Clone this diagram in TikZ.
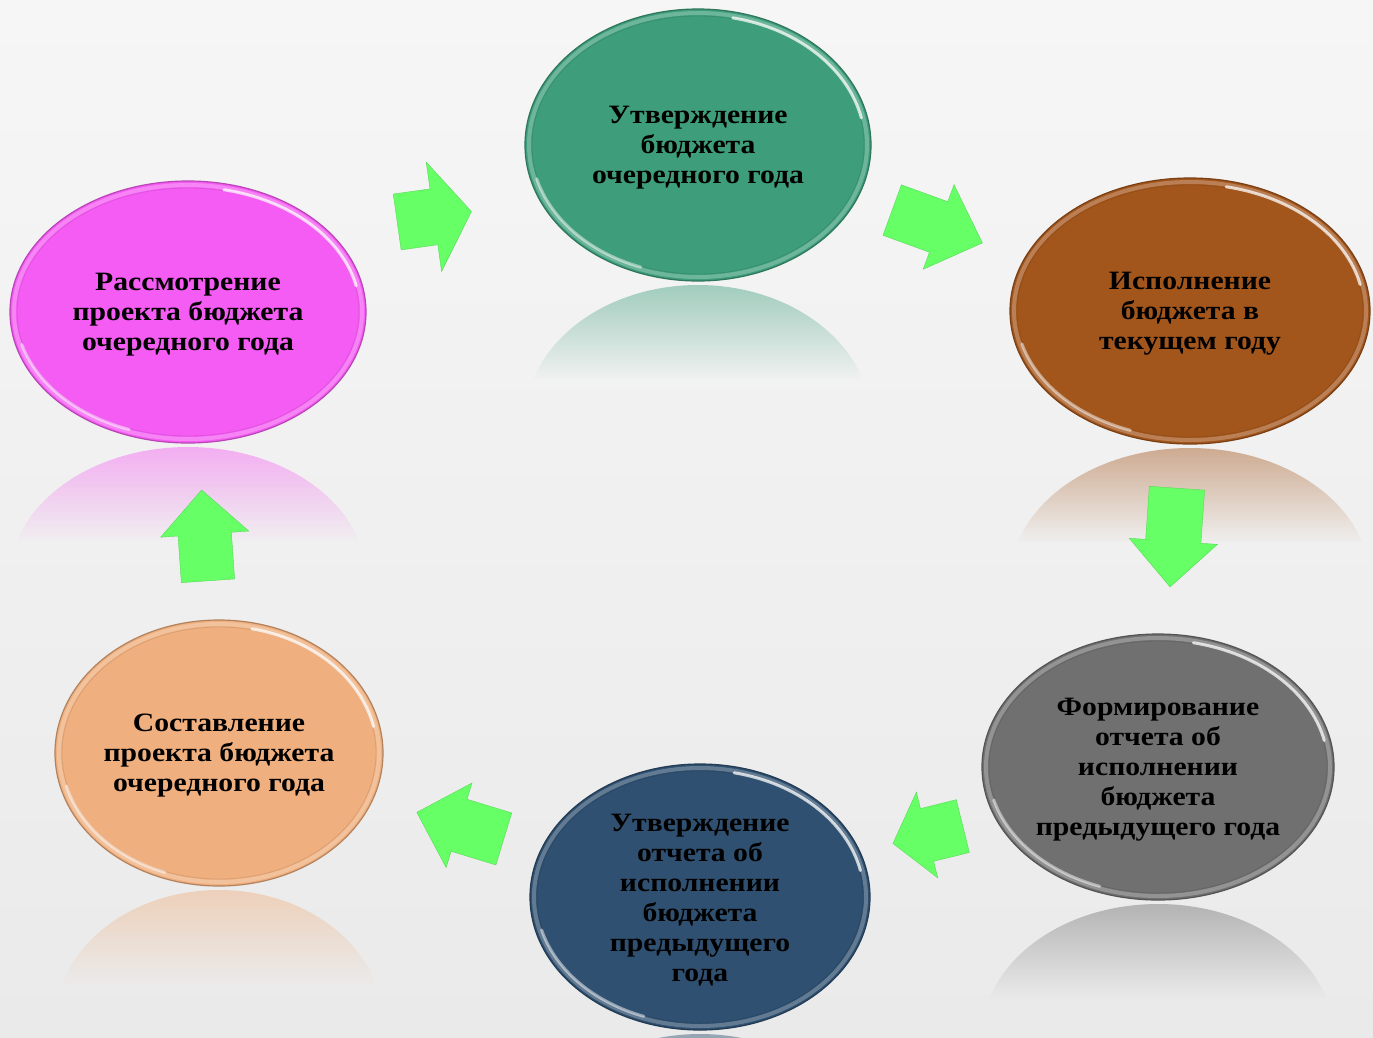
\documentclass[tikz,border=0pt]{standalone}
\usepackage{fontspec}
\setmainfont{Liberation Serif}[FakeStretch=1.12]
\usetikzlibrary{shapes.geometric,shapes.arrows,fadings}
\definecolor{cMag}{HTML}{F55CF3}
\definecolor{cTeal}{HTML}{3E9E7C}
\definecolor{cBrown}{HTML}{A3561C}
\definecolor{cGray}{HTML}{707070}
\definecolor{cBlue}{HTML}{2F5070}
\definecolor{cPeach}{HTML}{EFAF7E}
\definecolor{cArrow}{HTML}{66FF66}
\definecolor{bgTop}{HTML}{F6F6F6}
\definecolor{bgBot}{HTML}{EAEAEA}
\tikzfading[name=reflfade, top color=transparent!55, bottom color=transparent!100]
\tikzset{
  bubblestyle/.style={ellipse, inner sep=0pt, align=center, text=black,
    font=\fontsize{26.5}{30}\selectfont\bfseries, line width=1.2pt},
  glossline/.style={white, line width=3pt, opacity=0.75, line cap=round},
  garrow/.style={single arrow, fill=cArrow, draw=cArrow!85!black, line width=0.4pt,
    inner xsep=0pt, single arrow tip angle=90, anchor=tail}
}
\newcommand\bubble[7]{%
  \pgfmathsetmacro\by{#3+#5+4}%
  \pgfmathsetmacro\rcy{\by+#5}%
  \pgfmathsetmacro\bw{2*#4}%
  \pgfmathsetmacro\bh{2*#5}%
  \pgfmathsetmacro\ax{#4-6}%
  \pgfmathsetmacro\ay{#5-6}%
  \pgfmathsetmacro\rx{#4-4}%
  \pgfmathsetmacro\ry{#5-4}%
  \begin{scope}
    \clip (#2,\rcy) ellipse [x radius=#4, y radius=#5];
    \fill[#6, path fading=reflfade] (#2-#4,\by) rectangle (#2+#4,\by+95);
  \end{scope}
  \node[bubblestyle, fill=#6, draw=#6!75!black, minimum width=\bw pt, minimum height=\bh pt] (#1) at (#2,#3) {};
  \draw[#6!55!white, line width=4pt, opacity=0.55] (#1.center) ellipse [x radius=\rx, y radius=\ry];
  \draw[#6!85!black, line width=0.8pt, opacity=0.6] (#1.center) ellipse [x radius=#4-7, y radius=#5-7];
  \draw[glossline] (#1.center) ++({-12}:{\ax} and {\ay}) arc[start angle=-12, end angle=-78, x radius=\ax, y radius=\ay];
  \draw[glossline, opacity=0.5] (#1.center) ++({-195}:{\ax} and {\ay}) arc[start angle=-195, end angle=-250, x radius=\ax, y radius=\ay];
  \node[bubblestyle, anchor=center] (#1t) at (#2,#3+3) {#7};
}
\begin{document}
\begin{tikzpicture}[x=1pt,y=-1pt]
  \useasboundingbox (0,0) rectangle (1373,1037);
  \fill[top color=bgTop, bottom color=bgBot] (0,0) rectangle (1373,1037);

  \bubble{e1}{188}{312}{178}{131}{cMag}{Рассмотрение\\проекта бюджета\\очередного года}
  \bubble{e2}{698}{145}{173}{136}{cTeal}{Утверждение\\бюджета\\очередного года}
  \bubble{e3}{1190}{311}{180}{133}{cBrown}{Исполнение\\бюджета в\\текущем году}
  \bubble{e4}{1158}{767}{176}{133}{cGray}{Формирование\\отчета об\\исполнении\\бюджета\\предыдущего года}
  \bubble{e5}{700}{897}{170}{133}{cBlue}{Утверждение\\отчета об\\исполнении\\бюджета\\предыдущего\\года}
  \bubble{e6}{219}{753}{164}{133}{cPeach}{Составление\\проекта бюджета\\очередного года}

  \node[garrow, minimum height=75pt, minimum width=110pt, inner ysep=28pt,
        single arrow head extend=27pt, single arrow tip angle=111, rotate=8] (a1) at (397,222) {};
  \node[garrow, minimum height=96pt, minimum width=90pt, inner ysep=26.5pt,
        single arrow head extend=18pt, single arrow tip angle=88, rotate=-20] (a2) at (892,210) {};
  \node[garrow, minimum height=99pt, minimum width=88pt, inner ysep=27.5pt,
        single arrow head extend=16.5pt, single arrow tip angle=88, rotate=-94] (a3) at (1177,488) {};
  \node[garrow, minimum height=72pt, minimum width=88pt, inner ysep=27pt,
        single arrow head extend=17pt, single arrow tip angle=103, rotate=194] (a4) at (963,826) {};
  \node[garrow, minimum height=91pt, minimum width=88pt, inner ysep=27pt,
        single arrow head extend=17pt, rotate=163] (a5) at (504,839) {};
  \node[garrow, minimum height=91pt, minimum width=88pt, inner ysep=26.5pt,
        single arrow head extend=17.5pt, rotate=94] (a6) at (208,581) {};
\end{tikzpicture}
\end{document}
